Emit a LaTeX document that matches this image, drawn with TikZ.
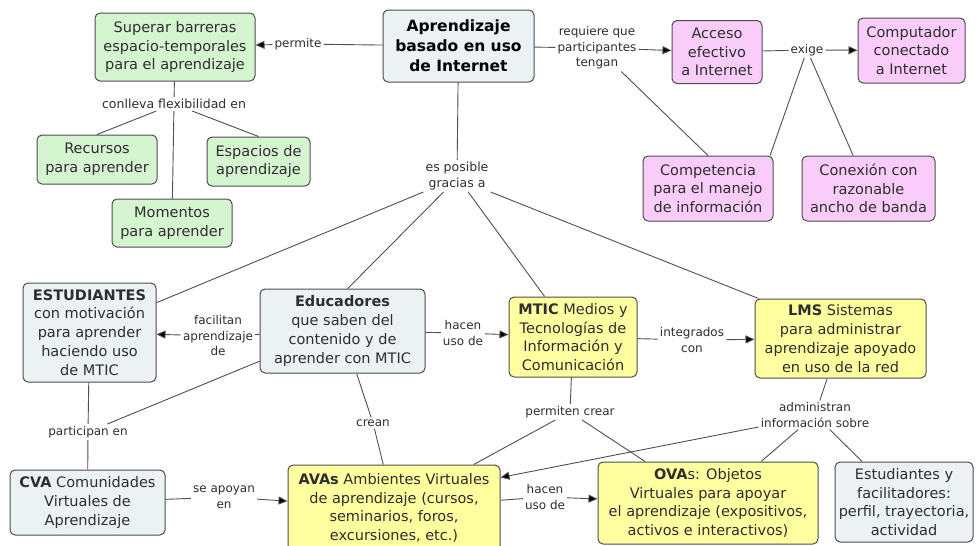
\documentclass[tikz,border=0pt]{standalone}
\usepackage{fontspec}
\setmainfont{DejaVu Sans}
\usetikzlibrary{arrows.meta}
\definecolor{gfill}{HTML}{D5F5D0}
\definecolor{pfill}{HTML}{F9CCF9}
\definecolor{yfill}{HTML}{FFFFA0}
\definecolor{bfill}{HTML}{ECF2F4}
\definecolor{edgec}{HTML}{4D4D4D}
\definecolor{ink}{HTML}{2E2E2E}
\definecolor{lnk}{HTML}{505050}
\begin{document}
\begin{tikzpicture}[x=1pt,y=-1pt,
  box/.style={draw=edgec, line width=1pt, rounded corners=5pt, align=center, inner sep=2pt, text=ink, font=\fontsize{14.5}{18.8}\selectfont},
  gbox/.style={box, fill=gfill},
  pbox/.style={box, fill=pfill},
  ybox/.style={box, fill=yfill},
  bbox/.style={box, fill=bfill},
  lbl/.style={align=center, inner sep=2pt, text=ink, font=\fontsize{12}{15.5}\selectfont},
  con/.style={draw=lnk, line width=0.9pt},
  arr/.style={con, -{Triangle[length=9pt,width=8pt,fill=black]}},
]
\useasboundingbox (0,0) rectangle (977,546);
\fill[white] (0,0) rectangle (977,546);
\clip (0,0) rectangle (977,546);

% boxes
\node[gbox, minimum width=160pt, minimum height=68pt] (superar) at (175,47) {Superar barreras\\espacio-temporales\\para el aprendizaje};
\node[bbox, minimum width=151pt, minimum height=72pt, font=\bfseries\fontsize{15.5}{20}\selectfont, text=black] (main) at (458.5,46) {Aprendizaje\\basado en uso\\de Internet};
\node[pbox, minimum width=90pt, minimum height=63pt] (acceso) at (717,52) {Acceso\\efectivo\\a Internet};
\node[pbox, minimum width=107pt, minimum height=65pt] (comp) at (911.5,50.5) {Computador\\conectado\\a Internet};
\node[pbox, minimum width=130pt, minimum height=65pt] (compet) at (708,188.5) {Competencia\\para el manejo\\de información};
\node[pbox, minimum width=133pt, minimum height=65pt] (conex) at (868.5,188.5) {Conexión con\\razonable\\ancho de banda};
\node[gbox, minimum width=120pt, minimum height=49pt] (recursos) at (97,159.5) {Recursos\\para aprender};
\node[gbox, minimum width=103pt, minimum height=49pt] (espacios) at (258.5,161.5) {Espacios de\\aprendizaje};
\node[gbox, minimum width=120pt, minimum height=48pt] (momentos) at (172,223) {Momentos\\para aprender};
\node[bbox, minimum width=133pt, minimum height=99pt] (estud) at (89.5,332.5) {\textbf{ESTUDIANTES}\\con motivación\\para aprender\\haciendo uso\\de MTIC};
\node[bbox, minimum width=165pt, minimum height=84pt] (educ) at (342.5,331) {\textbf{Educadores}\\que saben del\\contenido y de\\aprender con MTIC};
\node[ybox, minimum width=128pt, minimum height=80pt] (mtic) at (573,337) {\textbf{MTIC} Medios y\\Tecnologías de\\Información y\\Comunicación};
\node[ybox, minimum width=171pt, minimum height=79pt] (lms) at (840.5,338.5) {\textbf{LMS} Sistemas\\para administrar\\aprendizaje apoyado\\en uso de la red};
\node[bbox, minimum width=155pt, minimum height=65pt] (cva) at (87.5,502.5) {\textbf{CVA} Comunidades\\Virtuales de\\Aprendizaje};
\node[ybox, minimum width=212pt, minimum height=86pt] (avas) at (394,508) {\textbf{AVAs} Ambientes Virtuales\\de aprendizaje (cursos,\\seminarios, foros,\\excursiones, etc.)};
\node[ybox, minimum width=220pt, minimum height=82pt] (ovas) at (708,503) {\textbf{OVA}s: Objetos\\Virtuales para apoyar\\el aprendizaje (expositivos,\\activos e interactivos)};
\node[bbox, minimum width=138pt, minimum height=80pt] (estfac) at (904,502) {Estudiantes y\\facilitadores:\\perfil, trayectoria,\\actividad};

% labels
\node[lbl] (permite) at (298,44) {permite};
\node[lbl] (req) at (597,48) {requiere que\\participantes\\tengan};
\node[lbl] (exige) at (807,50) {exige};
\node[lbl, font=\fontsize{12.5}{15.5}\selectfont] (conlleva) at (174,104) {conlleva flexibilidad en};
\node[lbl, font=\fontsize{12.5}{15.5}\selectfont] (gracias) at (457,176) {es posible\\gracias a};
\node[lbl] (facil) at (218,336) {facilitan\\aprendizaje\\de};
\node[lbl] (hacen1) at (463,333) {hacen\\uso de};
\node[lbl] (integ) at (692,340) {integrados\\con};
\node[lbl] (partic) at (88,432) {participan en};
\node[lbl] (apoyan) at (224,497) {se apoyan\\en};
\node[lbl] (crean) at (373,423) {crean};
\node[lbl] (permit) at (570,412) {permiten crear};
\node[lbl] (hacen2) at (545,497) {hacen\\uso de};
\node[lbl] (admin) at (815,415) {administran\\información sobre};

% connectors
\draw[con] (main) -- (permite);
\draw[arr] (permite) -- (superar);
\draw[con] (main) -- (req);
\draw[arr] (req) -- (acceso);
\draw[con] (req) -- (compet.north);
\draw[con] (acceso) -- (exige);
\draw[arr] (exige) -- (comp);
\draw[con] (exige) -- (compet.28);
\draw[con] (exige) -- (conex.115);
\draw[con] (superar) -- (conlleva);
\draw[con] (conlleva) -- (recursos.north);
\draw[con] (conlleva) -- (espacios.north);
\draw[con] (conlleva) -- (momentos);
\draw[con] (main) -- (gracias);
\draw[con] (gracias.south west) -- (estud.24);
\draw[con] (gracias.230) -- (educ.83);
\draw[con] (gracias.305) -- (mtic.125);
\draw[con] (gracias.south east) -- (lms.154);
\draw[con] (educ) -- (facil);
\draw[arr] (facil) -- (estud);
\draw[con] (educ) -- (hacen1);
\draw[arr] (hacen1) -- (mtic);
\draw[con] (mtic) -- (integ);
\draw[arr] (integ) -- (lms);
\draw[con] (estud) -- (partic);
\draw[con] (partic) -- (cva);
\draw[con] (educ.200) -- (partic);
\draw[con] (cva) -- (apoyan);
\draw[arr] (apoyan) -- (avas);
\draw[con] (educ) -- (crean);
\draw[con] (crean) -- (avas);
\draw[con] (avas) -- (hacen2);
\draw[arr] (hacen2) -- (ovas);
\draw[con] (mtic) -- (permit);
\draw[con] (permit) -- (avas);
\draw[con] (permit) -- (ovas);
\draw[con] (lms) -- (admin);
\draw[arr] (admin.192) -- (avas.16);
\draw[con] (admin) -- (ovas.38);
\draw[con] (admin) -- (estfac.136);
\end{tikzpicture}
\end{document}
